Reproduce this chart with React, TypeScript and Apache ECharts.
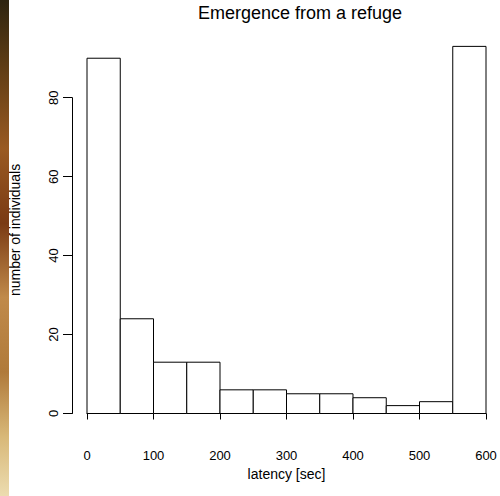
import React, { useEffect, useRef } from "react";
import * as echarts from "echarts";

const binStarts = [0, 50, 100, 150, 200, 250, 300, 350, 400, 450, 500, 550];
const binWidth = 50;
const counts = [90, 24, 13, 13, 6, 6, 5, 5, 4, 2, 3, 93];
const xTicks = [0, 100, 200, 300, 400, 500, 600];
const yTicks = [0, 20, 40, 60, 80];

const titleText = "Emergence from a refuge";
const xName = "latency [sec]";
const yName = "number of individuals";

const FONT = "'Liberation Sans', Arial, Helvetica, sans-serif";

export default function App() {
  const ref = useRef<HTMLDivElement>(null);
  useEffect(() => {
    document.body.style.margin = "0";
    const chart = echarts.init(ref.current!, null, { renderer: "svg" });
    const maxCount = Math.max(...counts);
    const pad = maxCount * 0.04;
    const data = binStarts.map((s, i) => [s, s + binWidth, counts[i]]);
    chart.setOption({
      animation: false,
      backgroundColor: "#ffffff",
      title: {
        text: titleText,
        left: 198,
        top: 4,
        padding: 0,
        textStyle: { fontFamily: FONT, fontSize: 18, fontWeight: "normal", color: "#000" },
      },
      graphic: [
        {
          type: "rect",
          shape: { x: 0, y: 0, width: 9, height: 496 },
          style: {
            fill: new echarts.graphic.LinearGradient(0, 0, 0, 1, [
              { offset: 0, color: "#2e2410" },
              { offset: 0.12, color: "#5a3a14" },
              { offset: 0.3, color: "#9a5a22" },
              { offset: 0.45, color: "#7a3a14" },
              { offset: 0.6, color: "#c08a4a" },
              { offset: 0.75, color: "#b07a3a" },
              { offset: 0.88, color: "#d8b878" },
              { offset: 1, color: "#ecdcb0" },
            ]),
          },
          silent: true,
        },
      ],
      grid: [
        { left: 87, right: 14, top: 31.7, bottom: 67.8 },
        { left: 72, width: 10, top: 97.7, bottom: 82.5 },
      ],
      xAxis: [
        {
          type: "value",
          gridIndex: 0,
          min: 0,
          max: 600,
          interval: 100,
          offset: 3.5,
          axisLine: { show: true, lineStyle: { color: "#000", width: 1 } },
          axisTick: { show: true, length: 6, lineStyle: { color: "#000" } },
          axisLabel: { show: true, margin: 17, fontFamily: FONT, fontSize: 13, color: "#000",
            customValues: xTicks },
          splitLine: { show: false },
          name: xName,
          nameLocation: "middle",
          nameGap: 23,
          nameTextStyle: { fontFamily: FONT, fontSize: 14, color: "#000" },
        },
        { type: "value", gridIndex: 1, show: false, min: 0, max: 1 },
      ],
      yAxis: [
        {
          type: "value",
          gridIndex: 0,
          min: -pad,
          max: maxCount + pad,
          offset: 15,
          axisLine: { show: false },
          axisTick: { show: false },
          axisLabel: { show: false },
          splitLine: { show: false },
          name: yName,
          nameLocation: "middle",
          nameGap: 50,
          nameTextStyle: { fontFamily: FONT, fontSize: 14, color: "#000" },
        },
        {
          type: "value",
          gridIndex: 1,
          min: 0,
          max: 80,
          interval: 20,
          axisLine: { show: true, lineStyle: { color: "#000", width: 1 } },
          axisTick: { show: true, length: 9, lineStyle: { color: "#000" } },
          axisLabel: {
            show: true,
            rotate: 90,
            margin: 19,
            align: "center",
            verticalAlign: "middle",
            fontFamily: FONT,
            fontSize: 13,
            color: "#000",
            customValues: yTicks,
          },
          splitLine: { show: false },
        },
      ],
      series: [
        {
          type: "custom",
          xAxisIndex: 0,
          yAxisIndex: 0,
          data,
          renderItem: (params: any, api: any) => {
            const p0 = api.coord([api.value(0), api.value(2)]);
            const p1 = api.coord([api.value(1), 0]);
            return {
              type: "rect",
              shape: { x: p0[0], y: p0[1], width: p1[0] - p0[0], height: p1[1] - p0[1] },
              style: { fill: "#ffffff", stroke: "#000000", lineWidth: 1 },
            };
          },
        },
      ],
    });
    return () => chart.dispose();
  }, []);
  return <div ref={ref} style={{ width: 500, height: 496, position: "absolute", left: 0, top: 0 }} />;
}
